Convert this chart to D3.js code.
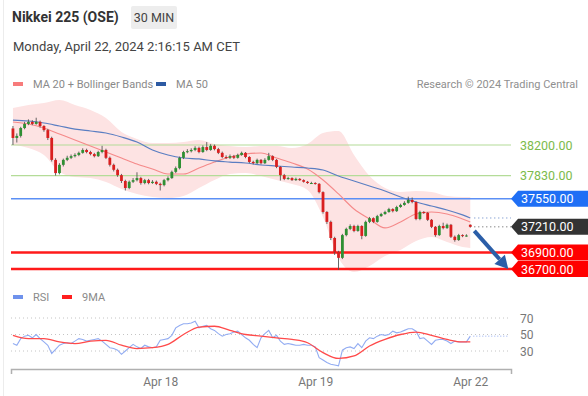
<!DOCTYPE html>
<html>
<head>
<meta charset="utf-8">
<script src="https://cdn.jsdelivr.net/npm/d3@7"></script>
<style>
  html, body { margin: 0; padding: 0; background: #fff; }
  svg { display: block; font-family: Roboto, "Liberation Sans", Arial, sans-serif; }
</style>
</head>
<body>
<script>
// candles, 30 min bars (index 0..118)
var opens = [38400,38285,38310,38405,38455,38480,38455,38480,38430,38380,
  38285,38020,37860,37960,38020,38045,38065,38080,38105,38140,
  38115,38090,38065,38115,38140,38045,37960,37900,37835,37765,
  37680,37755,37775,37800,37740,37775,37740,37755,37730,37715,
  37775,37800,37875,37920,38045,38115,38125,38140,38165,38115,
  38175,38140,38190,38150,38105,38055,38045,38065,38045,38080,
  38105,38055,37995,37980,38020,37980,38020,38065,38020,37935,
  37835,37790,37800,37775,37790,37775,37755,37740,37740,37730,
  37630,37390,37270,37075,36905,36835,37110,37185,37220,37160,
  37220,37100,37270,37315,37270,37340,37365,37390,37425,37400,
  37450,37475,37500,37535,37510,37305,37390,37380,37295,37210,
  37110,37220,37195,37235,37090,37050,37110,37100,37235];
var closes = [38285,38310,38405,38455,38480,38455,38480,38430,38380,38285,
  38020,37860,37960,38020,38045,38065,38080,38105,38140,38115,
  38090,38065,38115,38140,38045,37960,37900,37835,37765,37680,
  37755,37775,37800,37740,37775,37740,37755,37730,37715,37775,
  37800,37875,37920,38045,38115,38125,38140,38165,38115,38175,
  38140,38190,38150,38105,38055,38045,38065,38045,38080,38105,
  38055,37995,37980,38020,37980,38020,38065,38020,37935,37835,
  37790,37800,37775,37790,37775,37755,37740,37740,37730,37630,
  37390,37270,37075,36905,36835,37110,37185,37220,37160,37220,
  37100,37270,37315,37270,37340,37365,37390,37425,37400,37450,
  37475,37500,37535,37510,37305,37390,37380,37295,37210,37110,
  37220,37195,37235,37090,37050,37110,37100,37105,37210];
var highs = [38430,38340,38420,38480,38510,38500,38530,38495,38440,38395,
  38300,38040,37980,38035,38070,38085,38100,38120,38160,38155,
  38130,38105,38130,38190,38155,38060,37975,37915,37850,37780,
  37770,37800,37870,37815,37790,37790,37775,37770,37745,37790,
  37820,37890,37940,38060,38130,38150,38160,38185,38180,38195,
  38235,38210,38205,38165,38120,38075,38085,38080,38095,38120,
  38115,38065,38010,38035,38030,38040,38105,38075,38030,37945,
  37850,37815,37810,37805,37800,37785,37765,37755,37750,37740,
  37640,37400,37285,37090,36920,37125,37200,37240,37235,37235,
  37230,37285,37330,37325,37355,37380,37405,37440,37435,37465,
  37490,37520,37575,37565,37520,37405,37400,37390,37305,37220,
  37235,37260,37250,37245,37105,37125,37120,37120,37240];
var lows = [38200,38230,38290,38390,38440,38440,38445,38410,38360,38260,
  38000,37830,37845,37940,38005,38030,38050,38065,38095,38100,
  38075,38050,38055,38100,38030,37940,37880,37815,37740,37650,
  37665,37740,37760,37720,37725,37725,37730,37715,37650,37700,
  37760,37790,37860,37905,38030,38100,38110,38125,38100,38105,
  38125,38130,38135,38090,38040,38030,38030,38030,38035,38070,
  38040,37980,37965,37970,37965,37970,38010,38005,37920,37770,
  37775,37780,37765,37765,37765,37745,37730,37730,37720,37615,
  37370,37245,37050,36870,36690,36820,37095,37170,37145,37150,
  37060,37090,37255,37255,37260,37330,37355,37380,37385,37390,
  37440,37465,37490,37495,37290,37290,37365,37280,37195,37090,
  37100,37180,37185,37075,37030,37040,37085,37090,37200];

// indicators read every 4th bar
var maIdx = [0,4,8,12,16,20,24,28,32,36,40,44,48,52,56,60,64,68,72,76,80,84,88,92,96,100,104,108,112,116,118];
var ma20 = [38478,38454,38406,38333,38260,38188,38115,38043,37970,37910,37849,37849,37922,37994,38055,38091,38103,38043,37982,37910,37777,37608,37426,37305,37197,37269,37366,37390,37366,37305,37269];
var ma50 = [38502,38490,38466,38430,38393,38369,38345,38297,38236,38140,38079,38043,38031,38007,37994,37982,37958,37946,37934,37922,37898,37825,37765,37704,37644,37571,37511,37462,37414,37354,37317];
var bbUpper = [38647,38684,38708,38744,38684,38623,38526,38357,38273,38224,38224,38236,38260,38212,38188,38176,38188,38188,38164,38212,38345,38369,38079,37825,37680,37632,37644,37632,37584,37571,37571];
var bbLower = [38200,38164,38079,37874,37813,37801,37753,37668,37608,37571,37559,37584,37680,37777,37849,37861,37825,37777,37728,37656,37330,36834,36665,36737,36858,36931,37039,37088,37027,36967,36955];

var rsi = [39,37,45,48,49,46,50,45,41,37,27,32,37,39,40,39,42,45,44,42,
  43,44,45,42,38,34,33,31,26,30,34,38,35,33,37,35,34,35,43,44,
  45,49,58,61,63,63,64,66,58,60,61,57,55,51,48,50,51,53,54,50,
  46,43,38,34,46,51,55,46,49,42,38,39,38,37,37,38,37,37,35,22,
  19,16,14,13,12,31,34,35,33,39,34,42,46,45,48,50,49,50,54,52,
  53,55,57,57,54,45,46,42,38,43,44,44,42,39,42,41,41,41,48];
var rsiMa = [49,45,45,41,39,42,43,37,33,34,38,50,59,60,55,50,48,46,44,40,28,21,24,36,44,50,53,49,44,41,41];
var rsiLevels = [70, 50, 30];

var levelPrices = [38200, 37830, 37550, 36900, 36700];
var levelKinds = ['support2', 'support2', 'pivot', 'target', 'target'];
var lastPrice = 37210;

var tickIdx = [38, 78, 118];
var tickLabels = ['Apr 18', 'Apr 19', 'Apr 22'];

var W = 588, H = 396;
var GREEN = '#2f8f33', RED = '#d91f1f';

var svg = d3.select('body').append('svg').attr('width', W).attr('height', H);
svg.append('rect').attr('width', W).attr('height', H).attr('fill', '#fff');
svg.append('line').attr('x1', 3.5).attr('x2', 3.5).attr('y1', 0).attr('y2', H)
  .attr('stroke', '#ececec');

var x = d3.scaleLinear().domain([-0.5, 128.5]).range([11, 511]);
var y = d3.scaleLinear().domain([36700, 38200]).range([269, 145]);
var ry = d3.scaleLinear().domain([30, 70]).range([351, 318]);

// header
svg.append('text').attr('x', 12).attr('y', 22).attr('font-size', 14).attr('font-weight', 'bold')
  .attr('fill', '#333').text('Nikkei 225 (OSE)');
svg.append('rect').attr('x', 131).attr('y', 6).attr('width', 46).attr('height', 23).attr('rx', 2)
  .attr('fill', '#ededed');
svg.append('text').attr('x', 154).attr('y', 22).attr('text-anchor', 'middle').attr('font-size', 12.5)
  .attr('fill', '#444').text('30 MIN');
svg.append('text').attr('x', 13).attr('y', 51).attr('font-size', 13).attr('fill', '#444')
  .text('Monday, April 22, 2024 2:16:15 AM CET');

// legends
function legend(items, ly) {
  items.forEach(function(it) {
    svg.append('rect').attr('x', it[0]).attr('y', ly - 2).attr('width', 10).attr('height', 4).attr('fill', it[1]);
    svg.append('text').attr('x', it[0] + 20).attr('y', ly + 4).attr('font-size', 11).attr('fill', '#8a8a8a').text(it[2]);
  });
}
legend([[13, '#f77b7b', 'MA 20 + Bollinger Bands'], [156, '#2d5aa3', 'MA 50']], 84);
svg.append('text').attr('x', 578).attr('y', 88).attr('text-anchor', 'end').attr('font-size', 11)
  .attr('fill', '#8f8f8f').text('Research \u00a9 2024 Trading Central');
legend([[13, '#6f92ec', 'RSI'], [62, '#ff1f1f', '9MA']], 297);

// bollinger band + moving averages
var band = d3.area().curve(d3.curveMonotoneX)
  .x(function(d, i) { return x(maIdx[i]); })
  .y0(function(d, i) { return y(bbLower[i]); })
  .y1(function(d, i) { return y(bbUpper[i]); });
svg.append('path').datum(maIdx).attr('d', band).attr('fill', '#fde3e3');

// level lines
levelPrices.forEach(function(p, i) {
  var k = levelKinds[i], ly = y(p);
  var col = k === 'support2' ? '#b4dc98' : k === 'pivot' ? '#5b8ff5' : '#ff1a1a';
  svg.append('line').attr('x1', 11).attr('x2', k === 'support2' ? 511 : 513)
    .attr('y1', ly).attr('y2', ly).attr('stroke', col)
    .attr('stroke-width', k === 'target' ? 2.5 : k === 'pivot' ? 1.5 : 1.2);
});

var maLine = function(vals) {
  return d3.line().curve(d3.curveMonotoneX)
    .x(function(d, i) { return x(maIdx[i]); })
    .y(function(d) { return y(d); })(vals);
};
svg.append('path').attr('d', maLine(ma20)).attr('fill', 'none').attr('stroke', '#f58a8a').attr('stroke-width', 1.1);
svg.append('path').attr('d', maLine(ma50)).attr('fill', 'none').attr('stroke', '#5a7ec2').attr('stroke-width', 1.2);

// candles
var cg = svg.append('g');
var bars = cg.selectAll('g').data(closes).enter().append('g');
bars.append('line')
  .attr('x1', function(d, i) { return x(i); }).attr('x2', function(d, i) { return x(i); })
  .attr('y1', function(d, i) { return y(highs[i]); }).attr('y2', function(d, i) { return y(lows[i]); })
  .attr('stroke', '#555').attr('stroke-width', 0.9);
bars.append('rect')
  .attr('x', function(d, i) { return x(i) - 1.4; }).attr('width', 2.8)
  .attr('y', function(d, i) { return y(Math.max(d, opens[i])); })
  .attr('height', function(d, i) { return Math.max(1, Math.abs(y(d) - y(opens[i]))); })
  .attr('fill', function(d, i) { return d >= opens[i] ? GREEN : RED; });

// current value dotted lines
var last = closes.length - 1;
svg.append('line').attr('x1', x(last) + 4).attr('x2', 511).attr('y1', y(lastPrice)).attr('y2', y(lastPrice))
  .attr('stroke', '#555').attr('stroke-dasharray', '1,3');
svg.append('line').attr('x1', x(last) + 4).attr('x2', 511)
  .attr('y1', y(ma50[ma50.length - 1])).attr('y2', y(ma50[ma50.length - 1]))
  .attr('stroke', '#5a7ec2').attr('stroke-dasharray', '1,3');

// arrow to target
var a0 = [x(last) + 4, y(closes[last]) + 4], a1 = [x(127.8), y(36700)];
var ang = Math.atan2(a1[1] - a0[1], a1[0] - a0[0]);
var hl = 13, hw = 7;
var base = [a1[0] - hl * Math.cos(ang), a1[1] - hl * Math.sin(ang)];
svg.append('line').attr('x1', a0[0]).attr('y1', a0[1]).attr('x2', base[0]).attr('y2', base[1])
  .attr('stroke', '#2b5ea8').attr('stroke-width', 4);
svg.append('polygon').attr('fill', '#2b5ea8').attr('points', [
  a1,
  [base[0] + hw * Math.sin(ang), base[1] - hw * Math.cos(ang)],
  [base[0] - hw * Math.sin(ang), base[1] + hw * Math.cos(ang)]
].map(function(p) { return p.join(','); }).join(' '));

// right labels
function tag(p, col) {
  var ty = y(p);
  svg.append('path').attr('fill', col)
    .attr('d', 'M511,' + ty + 'L518,' + (ty - 8) + 'H590V' + (ty + 8) + 'H518Z');
  svg.append('text').attr('x', 521).attr('y', ty + 4.5).attr('font-size', 12.5).attr('fill', '#fff')
    .text(d3.format('.2f')(p));
}
levelPrices.forEach(function(p, i) {
  var k = levelKinds[i];
  if (k === 'support2') {
    svg.append('text').attr('x', 520).attr('y', y(p) + 4.5).attr('font-size', 12.5).attr('fill', '#7cbb4c')
      .text(d3.format('.2f')(p));
  } else {
    tag(p, k === 'pivot' ? '#1f6ff5' : '#ff0000');
  }
});
tag(lastPrice, '#333');

// RSI panel
rsiLevels.forEach(function(v) {
  svg.append('line').attr('x1', 11).attr('x2', 508).attr('y1', ry(v)).attr('y2', ry(v))
    .attr('stroke', '#c4c4c4').attr('stroke-dasharray', '1,3');
  svg.append('text').attr('x', 520).attr('y', ry(v) + 4.5).attr('font-size', 12).attr('fill', '#777').text(v);
});
svg.append('path').datum(rsi)
  .attr('d', d3.line().x(function(d, i) { return x(i); }).y(function(d) { return ry(d); }))
  .attr('fill', 'none').attr('stroke', '#92acf2').attr('stroke-width', 1.1);
svg.append('path')
  .attr('d', d3.line().curve(d3.curveMonotoneX).x(function(d, i) { return x(maIdx[i]); }).y(function(d) { return ry(d); })(rsiMa))
  .attr('fill', 'none').attr('stroke', '#ff4a4a').attr('stroke-width', 1.3);
svg.append('line').attr('x1', x(last) + 3).attr('x2', 508).attr('y1', ry(rsi[last])).attr('y2', ry(rsi[last]))
  .attr('stroke', '#92acf2').attr('stroke-dasharray', '1,2');

// time axis
var ax = svg.append('g').attr('transform', 'translate(0,369)')
  .call(d3.axisBottom(x).tickValues(tickIdx)
    .tickFormat(function(d, i) { return tickLabels[i]; })
    .tickSizeInner(0).tickSizeOuter(5).tickPadding(8));
ax.select('.domain').attr('stroke', '#b0b0b0').attr('stroke-width', 1.5);
ax.selectAll('text').attr('font-size', 12).attr('fill', '#777').attr('font-family', 'Roboto, sans-serif');
</script>
</body>
</html>
